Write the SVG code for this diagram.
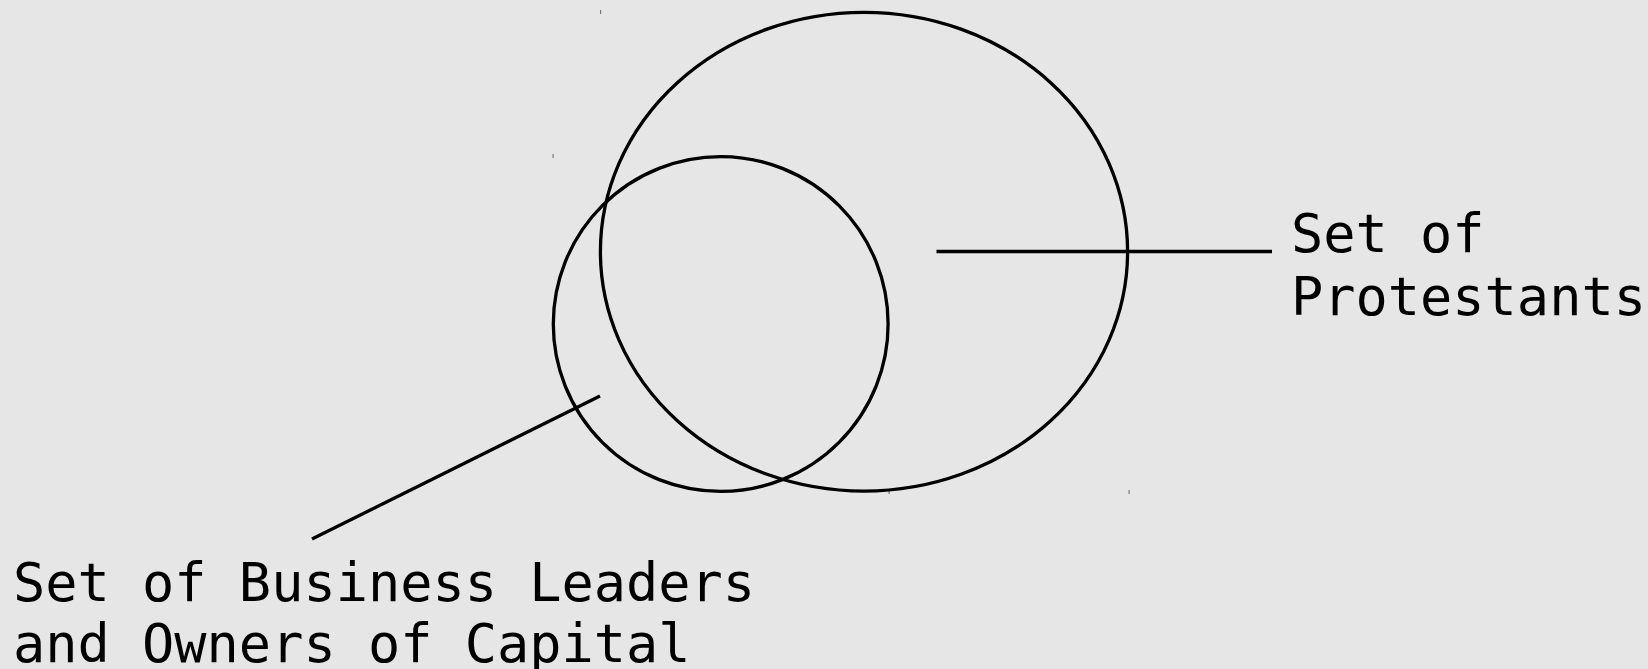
<svg xmlns="http://www.w3.org/2000/svg" width="1648" height="669" viewBox="0 0 1648 669">
<style>
.set{fill:none;stroke:#000;stroke-width:3.3}
.conn{stroke:#000;stroke-width:3.3;fill:none}
.lbl{font-family:"DejaVu Sans Mono","Liberation Mono",monospace;font-size:53.6px;fill:#000}
.tick{fill:#777}
</style>
<rect width="1648" height="669" fill="#e6e6e6"/>
<g id="ticks">
<rect class="tick" x="600" y="10" width="1.2" height="4"/>
<rect class="tick" x="552.5" y="154" width="1.2" height="4"/>
<rect class="tick" x="1128.5" y="490" width="1.2" height="4"/>
<rect class="tick" x="888.5" y="490" width="1.2" height="4"/>
</g>
<g id="protestants">
<ellipse class="set" cx="864" cy="251.7" rx="263.6" ry="239.4"/>
</g>
<g id="business">
<circle class="set" cx="720.7" cy="324" r="167.4"/>
</g>
<g id="connectors">
<line class="conn" x1="312" y1="539" x2="600" y2="396"/>
<line class="conn" x1="936.5" y1="251.5" x2="1272" y2="251.5"/>
</g>
<g id="label-protestants">
<text class="lbl" x="1291" y="252">Set of</text>
<text class="lbl" x="1291" y="315">Protestants</text>
</g>
<g id="label-business">
<text class="lbl" x="13" y="601">Set of Business Leaders</text>
<text class="lbl" x="13" y="662">and Owners of Capital</text>
</g>
</svg>
